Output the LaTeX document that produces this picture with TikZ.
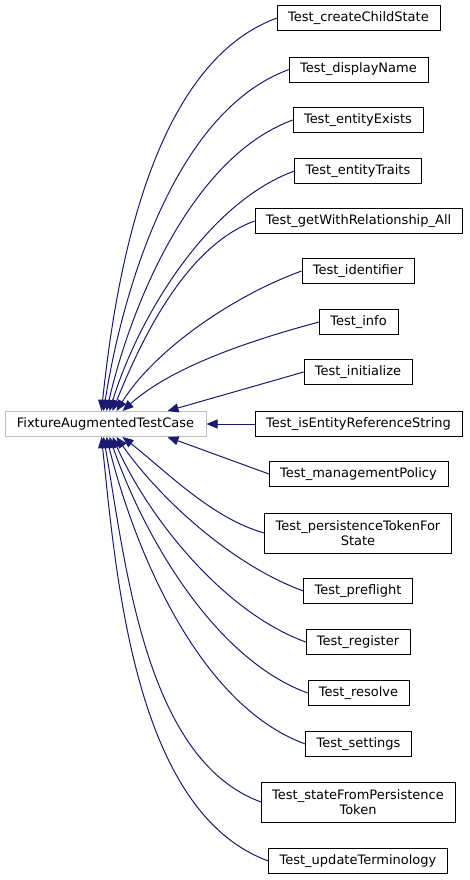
\documentclass[tikz,border=0pt]{standalone}
\usepackage{fontspec}
\setmainfont{DejaVu Sans}
\usetikzlibrary{positioning, arrows.meta}

\definecolor{edgeblue}{HTML}{191970}
\definecolor{basegray}{HTML}{BFBFBF}

\begin{document}
\begin{tikzpicture}[x=1pt,y=1pt]
  \useasboundingbox (0,0) rectangle (469,-880);
  \tikzset{
    testbox/.style={draw=black,rectangle,font=\fontsize{13}{15}\selectfont,inner xsep=11pt,minimum height=25pt,align=center},
    edgeline/.style={edgeblue,line width=1pt,looseness=0.8,{Triangle[length=11pt,width=9pt]}-}
  }
  \node (base) [testbox,draw=basegray,line width=1pt,minimum width=201pt] at (105.5,-424) {FixtureAugmentedTestCase};

  \begin{scope}[every node/.style={testbox}]
    \node (childstate) at (358.5,-18) {Test\_createChildState};
    \node (displayname) at (358.5,-69.5) {Test\_displayName};
    \node (exists) at (358,-120) {Test\_entityExists};
    \node (traits) at (358,-171) {Test\_entityTraits};
    \node (getall) at (358.5,-221) {Test\_getWithRelationship\_All};
    \node (identifier) at (358,-271) {Test\_identifier};
    \node (info) at (358.5,-322) {Test\_info};
    \node (initialize) at (358,-372) {Test\_initialize};
    \node (isref) at (358.5,-424) {Test\_isEntityReferenceString};
    \node (policy) at (358.5,-474) {Test\_managementPolicy};
    \node (tokenfor) [minimum height=40pt,inner ysep=2pt] at (358,-533) {Test\_persistenceTokenFor\\State};
    \node (preflight) at (358,-591) {Test\_preflight};
    \node (register) at (358,-642) {Test\_register};
    \node (resolve) at (358.5,-693) {Test\_resolve};
    \node (settings) at (358.5,-744) {Test\_settings};
    \node (statefrom) [minimum height=40pt,inner ysep=2pt] at (358,-802) {Test\_stateFromPersistence\\Token};
    \node (terminology) at (358,-861) {Test\_updateTerminology};
  \end{scope}

  % inheritance edges, arrows point at the base class
  \draw[edgeline] ([xshift=97pt]base.north west) to[out=84,in=200] (childstate.west);
  \draw[edgeline] ([xshift=99pt]base.north west) to[out=81,in=200] (displayname.west);
  \draw[edgeline] ([xshift=102pt]base.north west) to[out=77,in=200] (exists.west);
  \draw[edgeline] ([xshift=105pt]base.north west) to[out=73,in=200] (traits.west);
  \draw[edgeline] ([xshift=108pt]base.north west) to[out=68,in=200] (getall.west);
  \draw[edgeline] ([xshift=112pt]base.north west) to[out=58,in=200] (identifier.west);
  \draw[edgeline] ([xshift=118pt]base.north west) to[out=42,in=195] (info.west);
  \draw[edgeline] ([xshift=163pt]base.north west) -- (initialize.west);
  \draw[edgeline] (base.east) -- (isref.west);
  \draw[edgeline] ([xshift=163pt]base.south west) -- (policy.west);
  \draw[edgeline] ([xshift=118pt]base.south west) to[out=-38,in=165] (tokenfor.west);
  \draw[edgeline] ([xshift=112pt]base.south west) to[out=-55,in=160] (preflight.west);
  \draw[edgeline] ([xshift=108pt]base.south west) to[out=-66,in=160] (register.west);
  \draw[edgeline] ([xshift=105pt]base.south west) to[out=-71,in=160] (resolve.west);
  \draw[edgeline] ([xshift=102pt]base.south west) to[out=-76,in=160] (settings.west);
  \draw[edgeline] ([xshift=99pt]base.south west) to[out=-80,in=160] (statefrom.west);
  \draw[edgeline] ([xshift=97pt]base.south west) to[out=-84,in=160] (terminology.west);
\end{tikzpicture}
\end{document}
